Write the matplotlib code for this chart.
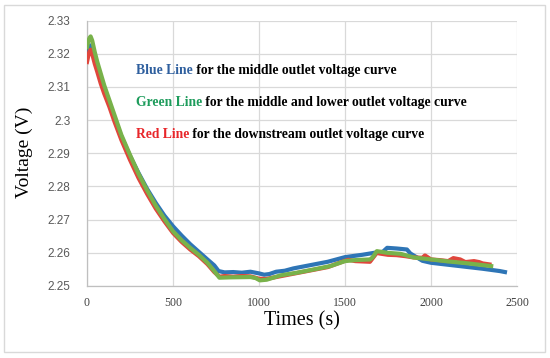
import matplotlib
matplotlib.use("Agg")
import matplotlib.pyplot as plt
from matplotlib.patches import Rectangle

# ---- data ----
t_blue = [0, 10, 20, 30, 45, 60, 80, 100, 130, 160, 200, 250, 300, 350, 400, 450, 500, 550, 600, 650,
          700, 740, 765, 800, 850, 900, 950, 1000, 1030, 1060, 1100, 1150, 1200, 1300, 1400, 1500, 1600,
          1670, 1720, 1745, 1800, 1860, 1880, 1950, 2000, 2100, 2200, 2300, 2400, 2430]
v_blue = [2.3200, 2.3215, 2.3225, 2.3218, 2.3185, 2.3160, 2.3128, 2.3095, 2.3050, 2.3005, 2.2950, 2.2892,
          2.2840, 2.2792, 2.2750, 2.2712, 2.2680, 2.2652, 2.2626, 2.2603, 2.2580, 2.2562, 2.2545, 2.2541,
          2.2542, 2.2540, 2.2543, 2.2538, 2.2534, 2.2536, 2.2543, 2.2546, 2.2553, 2.2563, 2.2573, 2.2587,
          2.2594, 2.2600, 2.2603, 2.2615, 2.2613, 2.2610, 2.2598, 2.2576, 2.2570, 2.2564, 2.2558, 2.2552,
          2.2545, 2.2542]

t_green = [0, 8, 15, 21, 30, 45, 60, 80, 100, 130, 160, 200, 250, 300, 350, 400, 450, 500, 550, 600, 650,
           700, 740, 770, 830, 950, 980, 1005, 1045, 1125, 1220, 1320, 1415, 1500, 1560, 1645, 1660, 1685,
           1745, 1823, 1900, 2000, 2100, 2200, 2300, 2350]
v_green = [2.3220, 2.3238, 2.3248, 2.3252, 2.3240, 2.3205, 2.3175, 2.3140, 2.3105, 2.3060, 2.3015, 2.2955,
           2.2895, 2.2838, 2.2788, 2.2742, 2.2702, 2.2665, 2.2638, 2.2615, 2.2594, 2.2570, 2.2545, 2.2525,
           2.2526, 2.2527, 2.2524, 2.2517, 2.2519, 2.2532, 2.2540, 2.2550, 2.2560, 2.2575, 2.2578, 2.2580,
           2.2586, 2.2605, 2.2600, 2.2597, 2.2586, 2.2580, 2.2574, 2.2569, 2.2563, 2.2560]

t_red = [0, 8, 15, 22, 30, 45, 60, 80, 100, 130, 160, 200, 250, 300, 350, 400, 450, 500, 550, 600, 650, 700,
         740, 770, 800, 850, 900, 950, 1000, 1040, 1100, 1200, 1300, 1400, 1500, 1520, 1560, 1645, 1685, 1700,
         1750, 1800, 1850, 1900, 1950, 1965, 2000, 2050, 2100, 2130, 2170, 2200, 2250, 2280, 2300, 2340]
v_red = [2.3175, 2.3195, 2.3208, 2.3212, 2.3200, 2.3170, 2.3145, 2.3110, 2.3080, 2.3040, 2.2995, 2.2940,
         2.2880, 2.2825, 2.2777, 2.2733, 2.2695, 2.2660, 2.2633, 2.2610, 2.2590, 2.2566, 2.2542, 2.2528,
         2.2530, 2.2528, 2.2530, 2.2529, 2.2522, 2.2521, 2.2527, 2.2537, 2.2547, 2.2557, 2.2576, 2.2579,
         2.2575, 2.2573, 2.2600, 2.2598, 2.2594, 2.2593, 2.2590, 2.2586, 2.2585, 2.2592, 2.2580, 2.2578,
         2.2575, 2.2584, 2.2580, 2.2572, 2.2575, 2.2572, 2.2568, 2.2565]

x_ticks = [0, 500, 1000, 1500, 2000, 2500]
y_ticks = [2.25, 2.26, 2.27, 2.28, 2.29, 2.30, 2.31, 2.32, 2.33]
y_tick_labels = ["2.25", "2.26", "2.27", "2.28", "2.29", "2.3", "2.31", "2.32", "2.33"]

notes = [
    ("Blue Line", " for the middle outlet voltage curve", "#2E5F9E"),
    ("Green Line", " for the middle and lower outlet voltage curve", "#1E9C5C"),
    ("Red Line", " for the downstream outlet voltage curve", "#E8262A"),
]

# ---- figure ----
fig = plt.figure(figsize=(5.5, 3.58), dpi=100)
fig.patches.append(Rectangle((4 / 550, 6 / 358), 541 / 550, 347 / 358, transform=fig.transFigure,
                             fill=False, edgecolor="#d9d9d9", linewidth=1.0))

ax = fig.add_axes([87 / 550, 72 / 358, 430 / 550, 265.5 / 358])

ax.plot(t_blue, v_blue, color="#2E75B6", lw=3.0, solid_joinstyle="round", zorder=3)
ax.plot(t_red, v_red, color="#E0463C", lw=3.0, solid_joinstyle="round", zorder=4)
ax.plot(t_green, v_green, color="#78B24A", lw=3.0, solid_joinstyle="round", zorder=5)

ax.set_xlim(0, 2500)
ax.set_ylim(2.25, 2.33)
ax.set_xticks(x_ticks)
ax.set_xticklabels([str(v) for v in x_ticks], fontfamily="Liberation Serif", fontsize=8.5, color="#404040")
ax.set_yticks(y_ticks)
ax.set_yticklabels(y_tick_labels, fontfamily="Liberation Sans", fontsize=8.5, color="#595959")
ax.tick_params(axis="both", length=0)
ax.tick_params(axis="y", pad=12)
ax.tick_params(axis="x", pad=8)

ax.grid(True, color="#d9d9d9", linewidth=0.9)
ax.set_axisbelow(True)
for s in ["top", "right"]:
    ax.spines[s].set_visible(False)
for s in ["left", "bottom"]:
    ax.spines[s].set_color("#bfbfbf")
    ax.spines[s].set_linewidth(0.9)

ax.set_xlabel("Times (s)", fontfamily="Liberation Serif", fontsize=14.5, color="black")
ax.xaxis.set_label_coords(0.5, -0.095)
ax.set_ylabel("Voltage (V)", fontfamily="Liberation Serif", fontsize=14, color="black")
ax.yaxis.set_label_coords(-0.125, 0.505)

ys = [0.813, 0.693, 0.569]
for (colored, rest, col), yy in zip(notes, ys):
    t1 = ax.text(0.114, yy, colored, transform=ax.transAxes, fontfamily="Liberation Serif",
                 fontweight="bold", fontsize=9.8, color=col, va="center", ha="left", zorder=6)
    ax.annotate(rest, xy=(1, 0), xycoords=t1, va="bottom", ha="left", fontfamily="Liberation Serif",
                fontweight="bold", fontsize=9.8, color="black", zorder=6)

fig.savefig("out.png", dpi=100)
